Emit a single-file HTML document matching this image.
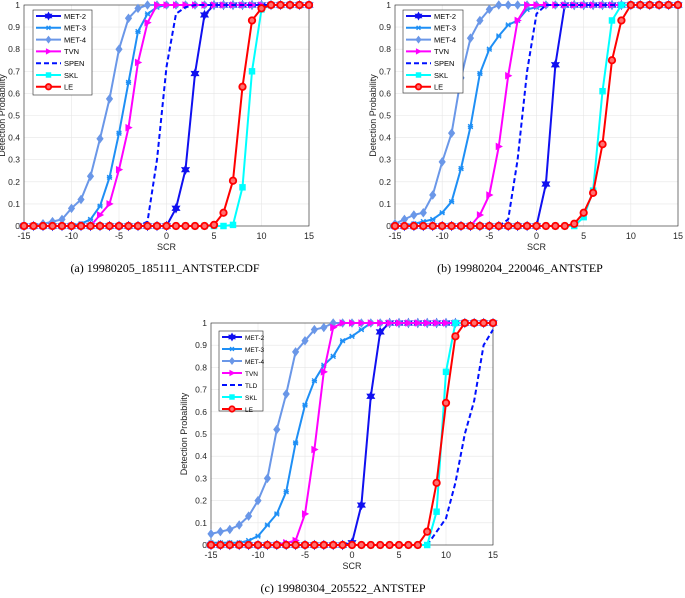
<!DOCTYPE html>
<html><head><meta charset="utf-8">
<style>
html,body{margin:0;padding:0;background:#fff;}
svg{display:block;}
text{font-family:"Liberation Sans",sans-serif;}
.cap{font-family:"Liberation Serif",serif;font-size:12px;fill:#000;}
</style></head>
<body>
<svg id="fig" width="685" height="598" viewBox="0 0 685 598" xmlns="http://www.w3.org/2000/svg">
<text class="cap" x="165" y="272" text-anchor="middle">(a) 19980205_185111_ANTSTEP.CDF</text>
<text class="cap" x="520" y="272" text-anchor="middle">(b) 19980204_220046_ANTSTEP</text>
<text class="cap" x="343" y="592" text-anchor="middle">(c) 19980304_205522_ANTSTEP</text>
</svg>
<script>
const xCats = [-15,-14,-13,-12,-11,-10,-9,-8,-7,-6,-5,-4,-3,-2,-1,0,1,2,3,4,5,6,7,8,9,10,11,12,13,14,15];
const xTicks = [-15,-10,-5,0,5,10,15];
const yTicks = [0,0.1,0.2,0.3,0.4,0.5,0.6,0.7,0.8,0.9,1];
const yTickLabels = ["0","0.1","0.2","0.3","0.4","0.5","0.6","0.7","0.8","0.9","1"];

const a_met2 = [0,0,0,0,0,0,0,0,0,0,0,0,0,0,0,0,0.08,0.255,0.69,0.955,1,1,1,1,1,1,1,1,1,1,1];
const a_met3 = [0,0,0,0,0,0,0.01,0.03,0.09,0.22,0.42,0.65,0.88,0.96,0.99,1,1,1,1,1,1,1,1,1,1,1,1,1,1,1,1];
const a_met4 = [0,0,0.01,0.02,0.03,0.08,0.12,0.225,0.395,0.575,0.8,0.94,0.985,1,1,1,1,1,1,1,1,1,1,1,1,1,1,1,1,1,1];
const a_tvn  = [0,0,0,0,0,0,0,0,0.05,0.1,0.255,0.445,0.74,0.92,1,1,1,1,1,1,1,1,1,1,1,1,1,1,1,1,1];
const a_spen = [0,0,0,0,0,0,0,0,0,0,0,0,0,0.02,0.3,0.72,0.96,0.99,1,1,1,1,1,1,1,1,1,1,1,1,1];
const a_skl  = [0,0,0,0,0,0,0,0,0,0,0,0,0,0,0,0,0,0,0,0,0,0,0.005,0.175,0.7,0.98,1,1,1,1,1];
const a_le   = [0,0,0,0,0,0,0,0,0,0,0,0,0,0,0,0,0,0,0,0,0.005,0.06,0.205,0.63,0.93,0.985,1,1,1,1,1];

const b_met2 = [0,0,0,0,0,0,0,0,0,0,0,0,0,0,0,0,0.19,0.73,1,1,1,1,1,1,1,1,1,1,1,1,1];
const b_met3 = [0,0,0.01,0.02,0.03,0.06,0.11,0.26,0.45,0.69,0.8,0.86,0.91,0.93,0.98,0.99,1,1,1,1,1,1,1,1,1,1,1,1,1,1,1];
const b_met4 = [0.01,0.03,0.05,0.06,0.14,0.29,0.42,0.67,0.85,0.93,0.98,1,1,1,1,1,1,1,1,1,1,1,1,1,1,1,1,1,1,1,1];
const b_tvn  = [0,0,0,0,0,0,0,0,0,0.05,0.14,0.36,0.68,0.93,1,1,1,1,1,1,1,1,1,1,1,1,1,1,1,1,1];
const b_spen = [0,0,0,0,0,0,0,0,0,0,0,0,0.03,0.3,0.7,0.96,1,1,1,1,1,1,1,1,1,1,1,1,1,1,1];
const b_skl  = [0,0,0,0,0,0,0,0,0,0,0,0,0,0,0,0,0,0,0,0,0.04,0.16,0.61,0.93,1,1,1,1,1,1,1];
const b_le   = [0,0,0,0,0,0,0,0,0,0,0,0,0,0,0,0,0,0,0,0.01,0.06,0.15,0.37,0.75,0.93,1,1,1,1,1,1];

const c_met2 = [0,0,0,0,0,0,0,0,0,0,0,0,0,0,0,0.01,0.18,0.67,0.96,1,1,1,1,1,1,1,1,1,1,1,1];
const c_met3 = [0.01,0.01,0.01,0.01,0.02,0.04,0.09,0.14,0.24,0.46,0.63,0.74,0.81,0.85,0.92,0.94,0.97,1,1,1,1,1,1,1,1,1,1,1,1,1,1];
const c_met4 = [0.05,0.06,0.07,0.09,0.13,0.2,0.3,0.52,0.68,0.87,0.92,0.97,0.98,1,1,1,1,1,1,1,1,1,1,1,1,1,1,1,1,1,1];
const c_tvn  = [0,0,0,0,0,0,0,0,0.01,0.02,0.14,0.43,0.78,0.98,1,1,1,1,1,1,1,1,1,1,1,1,1,1,1,1,1];
const c_tld  = [0,0,0,0,0,0,0,0,0,0,0,0,0,0,0,0,0,0,0,0,0,0,0,0,0.06,0.12,0.28,0.5,0.65,0.9,0.97];
const c_skl  = [0,0,0,0,0,0,0,0,0,0,0,0,0,0,0,0,0,0,0,0,0,0,0,0,0.15,0.78,1,1,1,1,1];
const c_le   = [0,0,0,0,0,0,0,0,0,0,0,0,0,0,0,0,0,0,0,0,0,0,0,0.06,0.28,0.64,0.94,1,1,1,1];

const NS = "http://www.w3.org/2000/svg";
const fig = document.getElementById('fig');
function mk(tag, attrs, parent){
  const e = document.createElementNS(NS, tag);
  for (const k in attrs) e.setAttribute(k, attrs[k]);
  (parent||fig).appendChild(e);
  return e;
}
function starPts(cx,cy,r){
  let p=[];
  for(let i=0;i<12;i++){const a=Math.PI/6*i-Math.PI/2;const rr=i%2?r*0.55:r;p.push((cx+rr*Math.cos(a)).toFixed(1)+','+(cy+rr*Math.sin(a)).toFixed(1));}
  return p.join(' ');
}
function marker(g, type, x, y, color, s){
  let m;
  if(type==='star') m=mk('polygon',{points:starPts(x,y,s*1.15),fill:color,stroke:color,'stroke-width':0.8},g);
  else if(type==='x'){ m=mk('path',{d:`M${x-s*0.6},${y-s*0.6}L${x+s*0.6},${y+s*0.6}M${x-s*0.6},${y+s*0.6}L${x+s*0.6},${y-s*0.6}M${x-s*0.7},${y}L${x+s*0.7},${y}`,stroke:color,'stroke-width':1.4,fill:'none'},g);}
  else if(type==='diamond') m=mk('polygon',{points:`${x},${y-s*1.25} ${x+s*0.95},${y} ${x},${y+s*1.25} ${x-s*0.95},${y}`,fill:color},g);
  else if(type==='tri') m=mk('polygon',{points:`${x-s*0.8},${y-s} ${x+s*1.1},${y} ${x-s*0.8},${y+s}`,fill:color},g);
  else if(type==='square') m=mk('rect',{x:x-s*0.85,y:y-s*0.85,width:s*1.7,height:s*1.7,fill:color},g);
  else if(type==='circle') m=mk('circle',{cx:x,cy:y,r:s*0.85,fill:'#ff7070',stroke:color,'stroke-width':1.8},g);
  return m;
}
function plot(id, L, R, T, B, series, legend, ylabX){
  const g = mk('g',{});
  
  
  const sx = v => L + (v+15)/30*(R-L);
  const sy = v => B - v*(B-T);
  mk('rect',{x:L,y:T,width:R-L,height:B-T,fill:'#fff'},g);
  xTicks.forEach(t=>{
    const gl = mk('line',{x1:sx(t),x2:sx(t),y1:T,y2:B,stroke:'#e6e6e6','stroke-width':0.6},g);
    
    
    const tl = mk('text',{x:sx(t),y:B+13,'font-size':9,'text-anchor':'middle',fill:'#262626'},g);
    tl.textContent = String(t);
    
    
  });
  yTicks.forEach((t,i)=>{
    const gl = mk('line',{x1:L,x2:R,y1:sy(t),y2:sy(t),stroke:'#e6e6e6','stroke-width':0.6},g);
    
    
    const tl = mk('text',{x:L-4,y:sy(t)+3,'font-size':8.5,'text-anchor':'end',fill:'#262626'},g);
    tl.textContent = yTickLabels[i];
    
    
  });
  const box = mk('rect',{x:L,y:T,width:R-L,height:B-T,fill:'none',stroke:'#262626','stroke-width':0.6},g);
  
  
  const xl = mk('text',{x:(L+R)/2,y:B+24,'font-size':9,'text-anchor':'middle',fill:'#262626'},g);
  xl.textContent='SCR';
  
  
  const yl = mk('text',{x:ylabX,y:(T+B)/2,'font-size':9,'text-anchor':'middle',fill:'#262626',transform:`rotate(-90 ${ylabX} ${(T+B)/2})`},g);
  yl.textContent='Detection Probability';
  
  
  series.forEach(s=>{
    const sg = mk('g',{},g);
    
    
    const pts = s.data.map((v,i)=>sx(xCats[i]).toFixed(1)+','+sy(v).toFixed(1)).join(' ');
    const pl = mk('polyline',{points:pts,fill:'none',stroke:s.color,'stroke-width':2,'stroke-dasharray':s.dash?'5,3':'none','stroke-linejoin':'round'},sg);
    
    
    if(s.m){
      s.data.forEach((v,i)=>{
        const m = marker(sg,s.m,sx(xCats[i]),sy(v),s.color,3.8);
        
        
      });
    }
  });
  const lg = mk('g',{},g);
  
  
  mk('rect',{x:legend.x,y:legend.y,width:legend.w,height:legend.h,fill:'#fff',stroke:'#262626','stroke-width':0.6},lg);
  series.forEach((s,i)=>{
    const yy = legend.y+6+i*legend.step;
    const eg = mk('g',{},lg);
    
    
    mk('line',{x1:legend.x+3,x2:legend.x+3+legend.len,y1:yy,y2:yy,stroke:s.color,'stroke-width':2,'stroke-dasharray':s.dash?'5,3':'none'},eg);
    if(s.m) marker(eg,s.m,legend.x+3+legend.len/2,yy,s.color,3.2);
    const t = mk('text',{x:legend.x+6+legend.len,y:yy+2.8,'font-size':legend.fs,fill:'#000'},eg);
    t.textContent = s.name;
  });
}
const C2='#1010f0',C3='#1e8ff5',C4='#6a97e8',CT='#ff00ff',CS='#0010ff',CK='#00ffff',CL='#ff0000';
plot('a',24,309,5,226,[
  {name:'MET-2',data:a_met2,color:C2,m:'star'},
  {name:'MET-3',data:a_met3,color:C3,m:'x'},
  {name:'MET-4',data:a_met4,color:C4,m:'diamond'},
  {name:'TVN',data:a_tvn,color:CT,m:'tri'},
  {name:'SPEN',data:a_spen,color:CS,dash:true},
  {name:'SKL',data:a_skl,color:CK,m:'square'},
  {name:'LE',data:a_le,color:CL,m:'circle'}
],{x:33,y:10,w:59,h:85,step:11.8,len:25,fs:7.5},5);
plot('b',395,678,5,226,[
  {name:'MET-2',data:b_met2,color:C2,m:'star'},
  {name:'MET-3',data:b_met3,color:C3,m:'x'},
  {name:'MET-4',data:b_met4,color:C4,m:'diamond'},
  {name:'TVN',data:b_tvn,color:CT,m:'tri'},
  {name:'SPEN',data:b_spen,color:CS,dash:true},
  {name:'SKL',data:b_skl,color:CK,m:'square'},
  {name:'LE',data:b_le,color:CL,m:'circle'}
],{x:403,y:10,w:60,h:83,step:11.8,len:25,fs:7.5},376);
plot('c',211,493,323,545,[
  {name:'MET-2',data:c_met2,color:C2,m:'star'},
  {name:'MET-3',data:c_met3,color:C3,m:'x'},
  {name:'MET-4',data:c_met4,color:C4,m:'diamond'},
  {name:'TVN',data:c_tvn,color:CT,m:'tri'},
  {name:'TLD',data:c_tld,color:CS,dash:true},
  {name:'SKL',data:c_skl,color:CK,m:'square'},
  {name:'LE',data:c_le,color:CL,m:'circle'}
],{x:219,y:331,w:44,h:80,step:12,len:20,fs:6.5},187);
</script>
</body></html>
